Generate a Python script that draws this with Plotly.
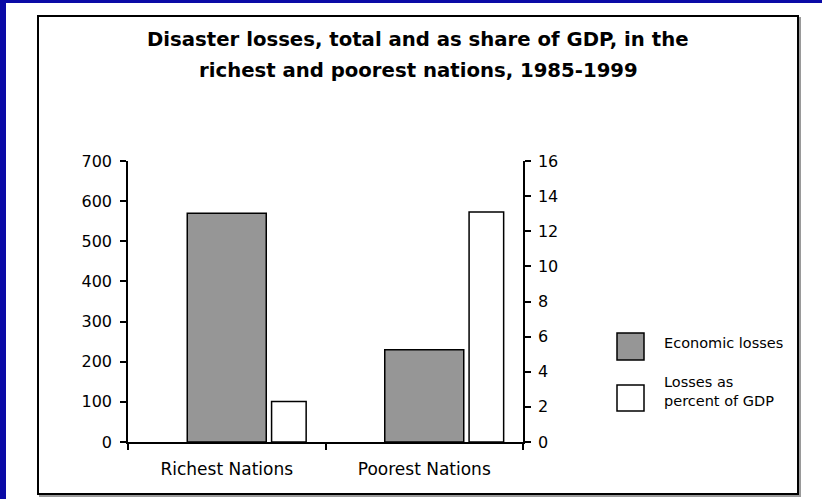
import plotly.graph_objects as go

# ---- data ----
categories = ["Richest Nations", "Poorest Nations"]
economic_losses = [570, 230]          # left axis
losses_pct_gdp = [2.3, 13.1]          # right axis
series_names = ["Economic losses", "Losses as<br>percent of GDP"]
left_ticks = [0, 100, 200, 300, 400, 500, 600, 700]
right_ticks = [0, 2, 4, 6, 8, 10, 12, 14, 16]
title_lines = ["Disaster losses, total and as share of GDP, in the",
               "richest and poorest nations, 1985-1999"]

# ---- geometry helpers (pixel -> paper) ----
W, H = 822, 499
L, R, T, B = 128, 523, 161, 442


def px(x):
    return (x - L) / (R - L)


def py(y):
    return (B - y) / (B - T)


FONT = "DejaVu Sans, sans-serif"
GRAY = "#969696"

fig = go.Figure()
fig.add_trace(go.Bar(
    x=categories, y=economic_losses, name=series_names[0],
    marker=dict(color=GRAY, line=dict(color="black", width=1.5)),
    offset=-0.2, width=0.40, yaxis="y", xaxis="x", showlegend=False))
fig.add_trace(go.Bar(
    x=categories, y=losses_pct_gdp, name=series_names[1],
    marker=dict(color="white", line=dict(color="black", width=1.5)),
    offset=0.227, width=0.175, yaxis="y2", xaxis="x", showlegend=False))

axis_lines = dict(showgrid=False, zeroline=False, linecolor="black", linewidth=1.5,
                  tickcolor="black", tickwidth=1.5, ticklen=6)
tickfont = dict(family=FONT, size=16, color="black")

fig.update_layout(
    width=W, height=H,
    margin=dict(l=L, r=W - R, t=T, b=H - B, pad=0),
    paper_bgcolor="white", plot_bgcolor="white",
    barmode="overlay",
    font=dict(family=FONT, color="black"),
    xaxis=dict(type="category", categoryorder="array", categoryarray=categories,
               range=[-0.5, 1.5], showline=True, ticks="outside", tickson="boundaries",
               ticklabelstandoff=11, tickfont=dict(family=FONT, size=17, color="black"),
               **axis_lines),
    xaxis2=dict(overlaying="x", range=[-0.5, 1.5], tickvals=[-0.5, 0.5, 1.5],
                showticklabels=False, showline=False, ticks="inside",
                anchor="y", **axis_lines),
    yaxis=dict(range=[0, 700], tickvals=left_ticks, showline=True, ticks="outside",
               ticklabelstandoff=5, anchor="x", tickfont=tickfont, **axis_lines),
    yaxis2=dict(range=[0, 16], tickvals=right_ticks, overlaying="y", side="right",
                showline=True, ticks="outside", ticklabelstandoff=4, anchor="x",
                tickfont=tickfont, **axis_lines),
    yaxis3=dict(range=[0, 700], tickvals=left_ticks, overlaying="y", side="left",
                showticklabels=False, showline=False, ticks="inside", anchor="x",
                **axis_lines),
    yaxis4=dict(range=[0, 16], tickvals=right_ticks, overlaying="y", side="right",
                showticklabels=False, showline=False, ticks="inside", anchor="x",
                **axis_lines),
)

shapes = []
# blue frame strips
shapes.append(dict(type="rect", xref="paper", yref="paper", x0=px(0), x1=px(6),
                   y0=py(H), y1=py(0), fillcolor="#0a0aa6", line=dict(width=0), layer="below"))
shapes.append(dict(type="rect", xref="paper", yref="paper", x0=px(0), x1=px(W),
                   y0=py(3), y1=py(0), fillcolor="#0a0aa6", line=dict(width=0), layer="below"))
# panel shadow + border
shapes.append(dict(type="rect", xref="paper", yref="paper", x0=px(40), x1=px(800),
                   y0=py(496), y1=py(18), line=dict(color="#9a9a9a", width=2), layer="below"))
shapes.append(dict(type="rect", xref="paper", yref="paper", x0=px(38), x1=px(798),
                   y0=py(494), y1=py(16), fillcolor="white",
                   line=dict(color="black", width=2), layer="below"))
# legend boxes
shapes.append(dict(type="rect", xref="paper", yref="paper", x0=px(617), x1=px(644),
                   y0=py(360), y1=py(333), fillcolor=GRAY, line=dict(color="black", width=1.5)))
shapes.append(dict(type="rect", xref="paper", yref="paper", x0=px(617), x1=px(644),
                   y0=py(411), y1=py(385), fillcolor="white", line=dict(color="black", width=1.5)))
fig.update_layout(shapes=shapes)

ann = []
for line, yy in zip(title_lines, [39, 71]):
    ann.append(dict(text="<b>" + line + "</b>", xref="paper", yref="paper",
                    x=px(418), y=py(yy), xanchor="center", yanchor="middle",
                    showarrow=False, font=dict(family=FONT, size=19.7, color="black")))
ann.append(dict(text=series_names[0], xref="paper", yref="paper", x=px(662), y=py(343),
                xanchor="left", yanchor="middle", showarrow=False, align="left",
                font=dict(family=FONT, size=14.5, color="black")))
ann.append(dict(text=series_names[1], xref="paper", yref="paper", x=px(662), y=py(391),
                xanchor="left", yanchor="middle", showarrow=False, align="left",
                font=dict(family=FONT, size=14.5, color="black")))
fig.update_layout(annotations=ann)

fig.write_html("out.html", config={"displayModeBar": False},
               post_script="document.body.style.margin='0px';")
